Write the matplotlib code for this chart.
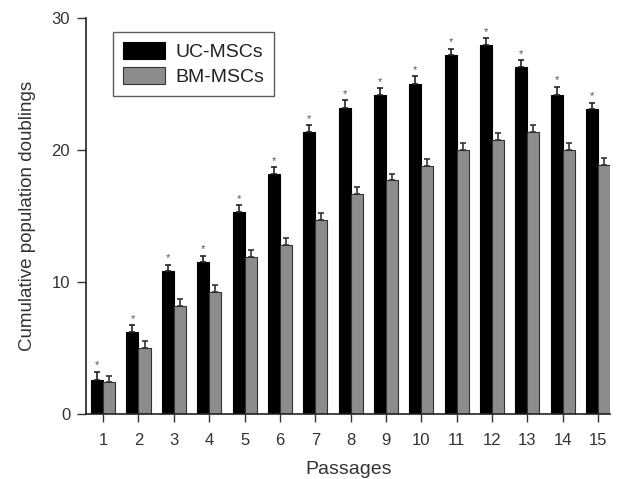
import matplotlib
matplotlib.use("Agg")
import matplotlib.pyplot as plt
import numpy as np

plt.rcParams['font.family'] = ['Liberation Sans', 'DejaVu Sans']

passages = list(range(1, 16))
uc_mscs = [2.6, 6.2, 10.8, 11.5, 15.3, 18.2, 21.4, 23.2, 24.2, 25.0, 27.2, 28.0, 26.3, 24.2, 23.1]
bm_mscs = [2.45, 5.0, 8.2, 9.25, 11.9, 12.8, 14.7, 16.7, 17.7, 18.8, 20.0, 20.8, 21.4, 20.0, 18.9]
uc_err = [0.6, 0.5, 0.5, 0.5, 0.5, 0.5, 0.5, 0.6, 0.5, 0.6, 0.5, 0.5, 0.5, 0.6, 0.5]
bm_err = [0.4, 0.5, 0.5, 0.5, 0.5, 0.5, 0.5, 0.5, 0.5, 0.5, 0.5, 0.5, 0.5, 0.5, 0.5]

fig = plt.figure(figsize=(6.2, 4.79), dpi=100)
ax = fig.add_axes([0.139, 0.136, 0.845, 0.826])

x = np.array(passages)
w = 0.34
ax.bar(x - w / 2, uc_mscs, w, color='black', edgecolor='black', linewidth=0.8,
       yerr=[np.zeros(15), uc_err], error_kw=dict(ecolor='#222222', capsize=2, elinewidth=1.2, capthick=1.2),
       label='UC-MSCs', zorder=2)
ax.bar(x + w / 2, bm_mscs, w, color='#8c8c8c', edgecolor='#333333', linewidth=0.8,
       yerr=[np.zeros(15), bm_err], error_kw=dict(ecolor='#333333', capsize=2, elinewidth=1.2, capthick=1.2),
       label='BM-MSCs', zorder=2)

for xi, v, e in zip(x, uc_mscs, uc_err):
    ax.text(xi - w / 2, v + e + 0.1, '*', ha='center', va='bottom', fontsize=8, color='#555555')

ax.set_xlim(0.52, 15.34)
ax.set_ylim(0, 30)
ax.set_xticks(passages)
ax.set_yticks([0, 10, 20, 30])
ax.tick_params(axis='both', direction='out', labelsize=12, colors='#333333', width=1)
ax.tick_params(axis='y', length=6.5, pad=5)
ax.tick_params(axis='x', length=5.5, pad=8)
for s in ['top', 'right']:
    ax.spines[s].set_visible(False)
for s in ['left', 'bottom']:
    ax.spines[s].set_color('#222222')
    ax.spines[s].set_linewidth(1.2)

ax.set_xlabel('Passages', fontsize=14, color='#333333', labelpad=10)
ax.set_ylabel('Cumulative population doublings', fontsize=13.5, color='#333333', labelpad=11)

leg = ax.legend(loc='upper left', bbox_to_anchor=(0.04, 0.98), fontsize=14, frameon=True,
                fancybox=False, edgecolor='#333333', handlelength=2.2, handleheight=1.0,
                borderpad=0.5, labelspacing=0.3, handletextpad=0.5, borderaxespad=0.3)
leg.get_frame().set_linewidth(1.0)
for t in leg.get_texts():
    t.set_color('#222222')

fig.savefig('out.png', dpi=100)
